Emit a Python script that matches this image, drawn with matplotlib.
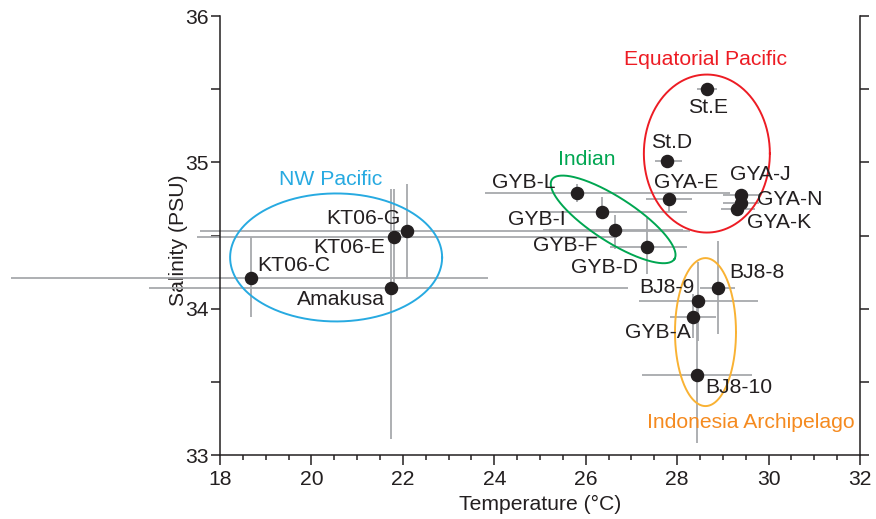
import numpy as np
import matplotlib
matplotlib.use("Agg")
import matplotlib.pyplot as plt
from matplotlib.ticker import MultipleLocator

plt.rcParams['font.family'] = ['Liberation Sans', 'DejaVu Sans']

# ---- data ----
names = ["St.E", "St.D", "GYA-E", "GYA-J", "GYA-N", "GYA-K",
         "GYB-L", "GYB-I", "GYB-F", "GYB-D",
         "BJ8-8", "BJ8-9", "GYB-A", "BJ8-10",
         "KT06-C", "KT06-E", "KT06-G", "Amakusa"]
temp = [28.65, 27.78, 27.82, 29.40, 29.40, 29.31,
        25.81, 26.36, 26.64, 27.34,
        28.89, 28.46, 28.35, 28.44,
        18.67, 21.81, 22.08, 21.73]
sal = [35.50, 35.01, 34.75, 34.78, 34.72, 34.68,
       34.79, 34.66, 34.54, 34.42,
       34.14, 34.05, 33.94, 33.55,
       34.21, 34.49, 34.53, 34.14]
temp_lo = [28.44, 27.52, 27.32, 29.00, 29.00, 28.95,
           23.80, 25.07, 25.07, 26.53,
           28.50, 27.17, 27.84, 27.23,
           13.43, 17.50, 17.56, 16.45]
temp_hi = [28.87, 28.11, 28.32, 29.80, 29.80, 29.70,
           29.16, 28.22, 28.13, 28.22,
           29.27, 29.76, 28.84, 29.63,
           23.86, 26.69, 28.28, 26.93]
sal_lo = [35.47, 34.97, 34.66, 34.74, 34.68, 34.64,
          34.73, 34.62, 34.41, 34.24,
          33.83, 33.78, 33.80, 33.08,
          33.94, 34.16, 34.20, 33.11]
sal_hi = [35.53, 35.05, 34.79, 34.82, 34.76, 34.72,
          34.85, 34.76, 34.64, 34.62,
          34.46, 34.32, 34.10, 34.02,
          34.49, 34.82, 34.85, 34.82]

# label offsets (pixels) relative to each point
lab_dx = [1, 5, 17, 19, 49, 42, -53, -65, -50, -42, 39, -31, -35, 42, 43, -45, -43, -50]
lab_dy = [-18, 18, 16, 20, 4, -13, 11, -7, -16, -20, 16, 14, -15, -13, 12, -11, 13, -11]

regions = ["NW Pacific", "Indian", "Equatorial Pacific", "Indonesia Archipelago"]
region_text_colors = ["#27AAE1", "#00A651", "#ED1C24", "#F58A1F"]
region_line_colors = ["#27AAE1", "#00A651", "#ED1C24", "#F9B233"]
region_text_pos = [(20.43, 34.88), (26.03, 35.02), (28.61, 35.70), (29.62, 33.22)]
ell_center = [(20.54, 34.35), (26.60, 34.61), (28.65, 35.06), (28.62, 33.84)]
ell_a_px = [106, 73, 63, 30.5]
ell_b_px = [64, 22, 79, 74]
ell_ang = [0, -33, 0, 0]

FS = 15.2

# ---- figure ----
W, H = 876, 519
fig = plt.figure(figsize=(W / 100, H / 100), dpi=100)
ax = fig.add_axes([220 / W, (H - 455) / H, 640 / W, 439 / H])
ax.set_xlim(18, 32)
ax.set_ylim(33, 36)

ink = "#231F20"
grey = "#A7A9AC"

ax.hlines(sal, temp_lo, temp_hi, colors=grey, linewidth=1.3, clip_on=False, zorder=2)
ax.vlines(temp, sal_lo, sal_hi, colors=grey, linewidth=1.3, clip_on=False, zorder=2)
ax.plot(temp, sal, 'o', color=ink, markersize=8.7, linestyle='none', zorder=5, clip_on=False)

for n, t, s, dx, dy in zip(names, temp, sal, lab_dx, lab_dy):
    ax.annotate(n, (t, s), xytext=(dx, dy), textcoords='offset pixels',
                ha='center', va='center', fontsize=FS, color=ink, zorder=6)

# ellipses (defined in pixel units, converted to data)
fig.canvas.draw()
p0 = ax.transData.transform((0, 0))
kx = ax.transData.transform((1, 0))[0] - p0[0]
ky = ax.transData.transform((0, 1))[1] - p0[1]
tt = np.linspace(0, 2 * np.pi, 400)
for (cx, cy), a, b, ang, col in zip(ell_center, ell_a_px, ell_b_px, ell_ang, region_line_colors):
    th = np.deg2rad(ang)
    ux = a * np.cos(tt)
    vy = b * np.sin(tt)
    px = ux * np.cos(th) - vy * np.sin(th)
    py = ux * np.sin(th) + vy * np.cos(th)
    ax.plot(cx + px / kx, cy + py / ky, color=col, linewidth=1.4, zorder=3, clip_on=False)

for r, (x, y), c in zip(regions, region_text_pos, region_text_colors):
    ax.text(x, y, r, color=c, fontsize=FS, ha='center', va='center', zorder=6)

# axes styling
ax.spines['top'].set_visible(False)
for sp in ['left', 'bottom', 'right']:
    ax.spines[sp].set_linewidth(1.1)
    ax.spines[sp].set_color(ink)

ax.xaxis.set_major_locator(MultipleLocator(2))
ax.xaxis.set_minor_locator(MultipleLocator(0.5))
ax.yaxis.set_major_locator(MultipleLocator(1))
ax.yaxis.set_minor_locator(MultipleLocator(0.5))
ax.tick_params(axis='x', which='major', direction='out', length=7.5, width=1.1,
               labelsize=FS, colors=ink, pad=3)
ax.tick_params(axis='x', which='minor', direction='out', length=3.8, width=1.1, colors=ink)
ax.tick_params(axis='y', which='both', direction='out', length=6.5, width=1.1,
               left=True, right=True, labelright=False, labelsize=FS, colors=ink, pad=2)

ax.set_xlabel("Temperature (°C)", fontsize=FS, color=ink)
ax.xaxis.set_label_coords(0.5, -0.09)
ax.set_ylabel("Salinity (PSU)", fontsize=FS, color=ink)
ax.yaxis.set_label_coords(-0.05, 0.49)

fig.savefig("out.png", dpi=100)
